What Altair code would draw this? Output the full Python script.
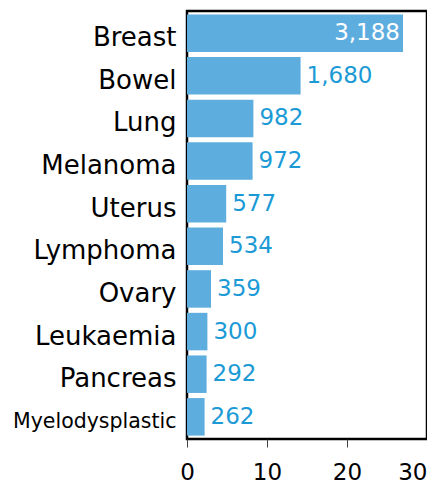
import altair as alt
import pandas as pd

cancers = ["Breast", "Bowel", "Lung", "Melanoma", "Uterus", "Lymphoma",
           "Ovary", "Leukaemia", "Pancreas", "Myelodysplastic"]
counts = [3188, 1680, 982, 972, 577, 534, 359, 300, 292, 262]
percent = [27.0, 14.2, 8.3, 8.2, 4.9, 4.5, 3.0, 2.55, 2.45, 2.2]
x_ticks = [0, 10, 20, 30]

df = pd.DataFrame({"cancer": cancers, "count": counts, "pct": percent})
df["label"] = df["count"].map(lambda v: f"{v:,}")

FONT = "DejaVu Sans"
BAR = "#5eaddf"
TXT = "#1b9ad6"

y = alt.Y("cancer:N", sort=cancers, title=None,
          scale=alt.Scale(paddingInner=0.12, paddingOuter=0.08),
          axis=alt.Axis(domain=False, ticks=False, labelPadding=11,
                        labelFont=FONT, labelColor="black",
                        labelFontSize=alt.condition("datum.value == 'Myelodysplastic'", alt.value(20.5), alt.value(26)),
                        labelOffset=5, labelLimit=300))
x = alt.X("pct:Q", title=None,
          scale=alt.Scale(domain=[0, 30], nice=False),
          axis=alt.Axis(values=x_ticks, domain=False, grid=False, tickSize=8,
                        tickColor="#444", tickWidth=1, labelPadding=14,
                        labelBaseline="top",
                        labelAlign=alt.condition("datum.value == 30", alt.value("right"), alt.value("center")),
                        labelOffset=alt.condition("datum.value == 30", alt.value(0), alt.value(0)),
                        labelFont=FONT, labelFontSize=23, labelColor="black",
                        labelFlush=False))

bars = alt.Chart(df).mark_bar(color=BAR).encode(x=x, y=y)

inside = alt.Chart(df).transform_filter("datum.pct > 20").mark_text(
    align="right", baseline="middle", dx=-3, font=FONT, fontSize=23, color="white"
).encode(x="pct:Q", y=alt.Y("cancer:N", sort=cancers), text="label:N")

outside = alt.Chart(df).transform_filter("datum.pct <= 20").mark_text(
    align="left", baseline="middle", dx=6, font=FONT, fontSize=23, color=TXT
).encode(x="pct:Q", y=alt.Y("cancer:N", sort=cancers), text="label:N")

chart = alt.layer(bars, inside, outside).properties(
    width=240, height=428,
    autosize=alt.AutoSizeParams(type="none"),
    padding={"top": 3, "left": 179, "right": 0, "bottom": 45},
).configure_view(stroke="black", strokeWidth=2.5)

chart.save("out.html", embed_options={"renderer": "svg", "actions": False})
